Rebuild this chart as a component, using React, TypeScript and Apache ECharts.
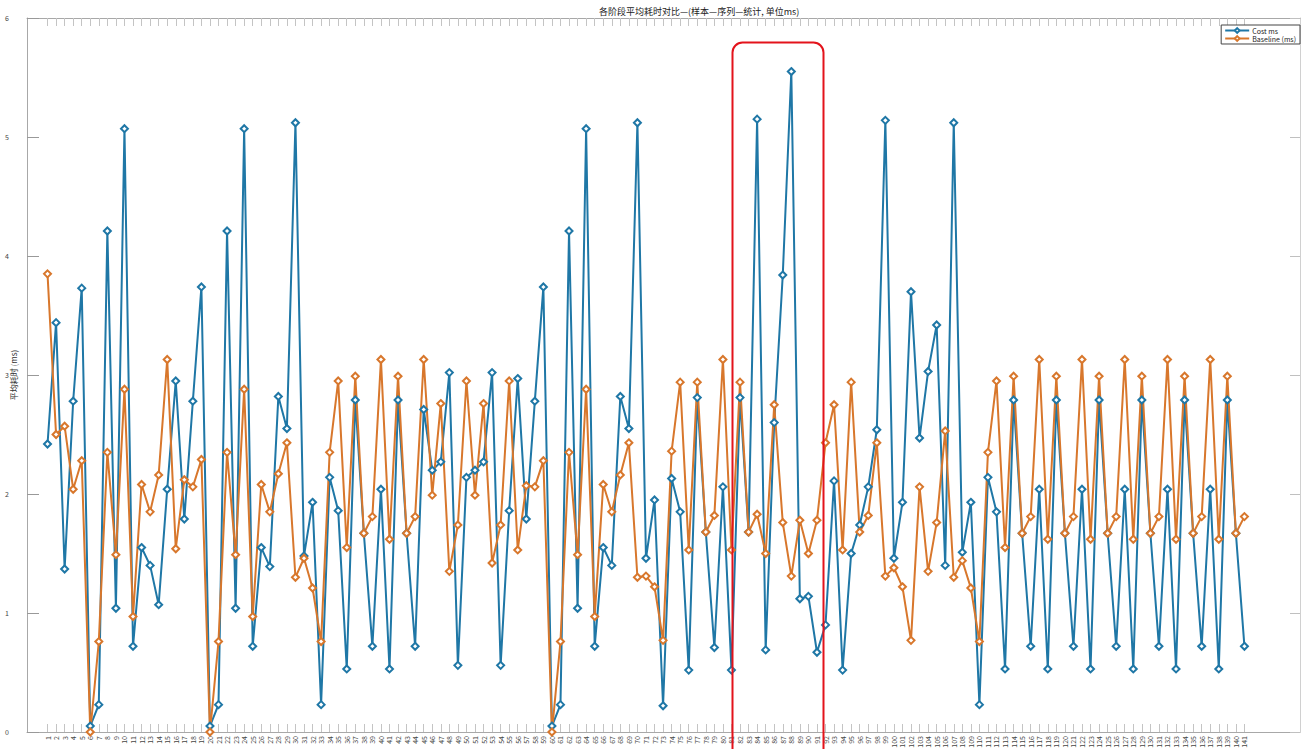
import React, { useEffect, useRef } from "react";
import * as echarts from "echarts";

const TITLE = "各阶段平均耗时对比—(样本—序列—统计, 单位ms)";
const Y_NAME = "平均耗时 (ms)";
const SERIES_NAMES = ["Cost ms", "Baseline (ms)"];
const Y_TICKS = [0, 1, 2, 3, 4, 5, 6];

const blueValues = [
  2.42, 3.44, 1.37, 2.78, 3.73, 0.05, 0.23, 4.21, 1.04, 5.07,
  0.72, 1.55, 1.40, 1.07, 2.04, 2.95, 1.79, 2.78, 3.74, 0.05,
  0.23, 4.21, 1.04, 5.07, 0.72, 1.55, 1.39, 2.82, 2.55, 5.12,
  1.48, 1.93, 0.23, 2.14, 1.86, 0.53, 2.79, 1.67, 0.72, 2.04,
  0.53, 2.79, 1.67, 0.72, 2.71, 2.20, 2.27, 3.02, 0.56, 2.14,
  2.20, 2.27, 3.02, 0.56, 1.86, 2.97, 1.79, 2.78, 3.74, 0.05,
  0.23, 4.21, 1.04, 5.07, 0.72, 1.55, 1.40, 2.82, 2.55, 5.12,
  1.46, 1.95, 0.22, 2.13, 1.85, 0.52, 2.81, 1.68, 0.71, 2.06,
  0.52, 2.81, 1.68, 5.15, 0.69, 2.60, 3.84, 5.55, 1.12, 1.14,
  0.67, 0.90, 2.11, 0.52, 1.50, 1.74, 2.06, 2.54, 5.14, 1.46,
  1.93, 3.70, 2.47, 3.03, 3.42, 1.40, 5.12, 1.51, 1.93, 0.23,
  2.14, 1.85, 0.53, 2.79, 1.67, 0.72, 2.04, 0.53, 2.79, 1.67,
  0.72, 2.04, 0.53, 2.79, 1.67, 0.72, 2.04, 0.53, 2.79, 1.67,
  0.72, 2.04, 0.53, 2.79, 1.67, 0.72, 2.04, 0.53, 2.79, 1.67,
  0.72,
];

const orangeValues = [
  3.85, 2.50, 2.57, 2.04, 2.28, 0.00, 0.76, 2.35, 1.49, 2.88,
  0.97, 2.08, 1.85, 2.16, 3.13, 1.54, 2.12, 2.06, 2.29, 0.00,
  0.76, 2.35, 1.49, 2.88, 0.97, 2.08, 1.85, 2.17, 2.43, 1.30,
  1.46, 1.21, 0.76, 2.35, 2.95, 1.55, 2.99, 1.67, 1.81, 3.13,
  1.62, 2.99, 1.67, 1.81, 3.13, 1.99, 2.76, 1.35, 1.74, 2.95,
  1.99, 2.76, 1.42, 1.74, 2.95, 1.53, 2.07, 2.06, 2.28, 0.00,
  0.76, 2.35, 1.49, 2.88, 0.97, 2.08, 1.85, 2.16, 2.43, 1.30,
  1.31, 1.22, 0.77, 2.36, 2.94, 1.53, 2.94, 1.68, 1.82, 3.13,
  1.53, 2.94, 1.68, 1.83, 1.50, 2.75, 1.76, 1.31, 1.78, 1.50,
  1.78, 2.43, 2.75, 1.53, 2.94, 1.68, 1.82, 2.43, 1.31, 1.38,
  1.22, 0.77, 2.06, 1.35, 1.76, 2.53, 1.30, 1.44, 1.21, 0.76,
  2.35, 2.95, 1.55, 2.99, 1.67, 1.81, 3.13, 1.62, 2.99, 1.67,
  1.81, 3.13, 1.62, 2.99, 1.67, 1.81, 3.13, 1.62, 2.99, 1.67,
  1.81, 3.13, 1.62, 2.99, 1.67, 1.81, 3.13, 1.62, 2.99, 1.67,
  1.81,
];

const xLabels = blueValues.map((_, i) => String(i + 1));
const xIndex = blueValues.map((_, i) => i);

const BLUE = "#1f77a6";
const ORANGE = "#d8772c";

export default function App() {
  const ref = useRef<HTMLDivElement>(null);
  useEffect(() => {
    if (!ref.current) return;
    const chart = echarts.init(ref.current, undefined, { renderer: "svg" });
    const axisGray = "#a8a8a8";
    const xCommon = {
      type: "value",
      min: -2.4,
      max: 146.5,
      splitLine: { show: false },
      axisLine: { show: true, onZero: false, lineStyle: { color: axisGray, width: 1 } },
      axisTick: {
        show: true,
        inside: true,
        length: 8,
        customValues: xIndex,
        lineStyle: { color: "#c4c4c4", width: 1 },
      },
    };
    chart.setOption({
      animation: false,
      backgroundColor: "#ffffff",
      textStyle: { fontFamily: "Noto Sans CJK SC" },
      title: {
        text: TITLE,
        left: 594,
        top: 2,
        textStyle: { fontSize: 9, fontWeight: "normal", color: "#222", fontFamily: "Noto Sans CJK SC" },
      },
      legend: {
        orient: "vertical",
        right: 1,
        top: 25,
        itemGap: 1,
        itemWidth: 24,
        itemHeight: 6,
        padding: [2, 4, 2, 3],
        borderColor: "#444",
        borderWidth: 1,
        backgroundColor: "#fff",
        textStyle: { fontSize: 7, color: "#222", padding: [0, 0, 0, -2] },
        data: SERIES_NAMES,
      },
      grid: { left: 27, right: 1, top: 18, bottom: 17, containLabel: false, outerBoundsMode: "none" },
      xAxis: [
        {
          ...xCommon,
          position: "bottom",
          axisLabel: {
            show: true,
            customValues: xIndex,
            formatter: (v: number) => xLabels[v] ?? "",
            rotate: 90,
            fontSize: 7,
            margin: 4,
            color: "#444",
          },
        },
        {
          ...xCommon,
          position: "top",
          axisLabel: { show: false },
        },
      ],
      yAxis: [
        {
          type: "value",
          min: Y_TICKS[0],
          max: Y_TICKS[Y_TICKS.length - 1],
          interval: 1,
          position: "left",
          name: Y_NAME,
          nameLocation: "middle",
          nameGap: 10,
          nameRotate: 90,
          nameMoveOverlap: false,
          nameTextStyle: { fontSize: 8, color: "#333" },
          splitLine: { show: false },
          axisLine: { show: true, onZero: false, lineStyle: { color: axisGray, width: 1 } },
          axisTick: { show: true, inside: true, length: 12, lineStyle: { color: "#999" } },
          axisLabel: { fontSize: 7, color: "#444", margin: 18 },
        },
        {
          type: "value",
          min: Y_TICKS[0],
          max: Y_TICKS[Y_TICKS.length - 1],
          interval: 1,
          position: "right",
          splitLine: { show: false },
          axisLine: { show: true, onZero: false, lineStyle: { color: "#d0d0d0", width: 1 } },
          axisTick: { show: true, inside: true, length: 10, lineStyle: { color: "#c0c0c0" } },
          axisLabel: { show: false },
        },
      ],
      series: [
        {
          name: SERIES_NAMES[0],
          type: "line",
          xAxisIndex: 0,
          yAxisIndex: 0,
          data: blueValues.map((v, i) => [i, v]),
          symbol: "emptyDiamond",
          symbolSize: 7,
          itemStyle: { color: BLUE, borderWidth: 1.4 },
          lineStyle: { color: BLUE, width: 2 },
        },
        {
          name: SERIES_NAMES[1],
          type: "line",
          xAxisIndex: 0,
          yAxisIndex: 0,
          data: orangeValues.map((v, i) => [i, v]),
          symbol: "emptyDiamond",
          symbolSize: 7,
          itemStyle: { color: ORANGE, borderWidth: 1.4 },
          lineStyle: { color: ORANGE, width: 2 },
        },
      ],
      graphic: [
        {
          type: "rect",
          left: 730,
          top: 40,
          z: 100,
          shape: { width: 91, height: 730, r: 10 },
          style: { fill: "none", stroke: "#e3131b", lineWidth: 2 },
        },
      ],
    });
    return () => chart.dispose();
  }, []);
  return (
    <div
      ref={ref}
      style={{ position: "absolute", left: 0, top: 0, width: 1301, height: 749 }}
    />
  );
}
